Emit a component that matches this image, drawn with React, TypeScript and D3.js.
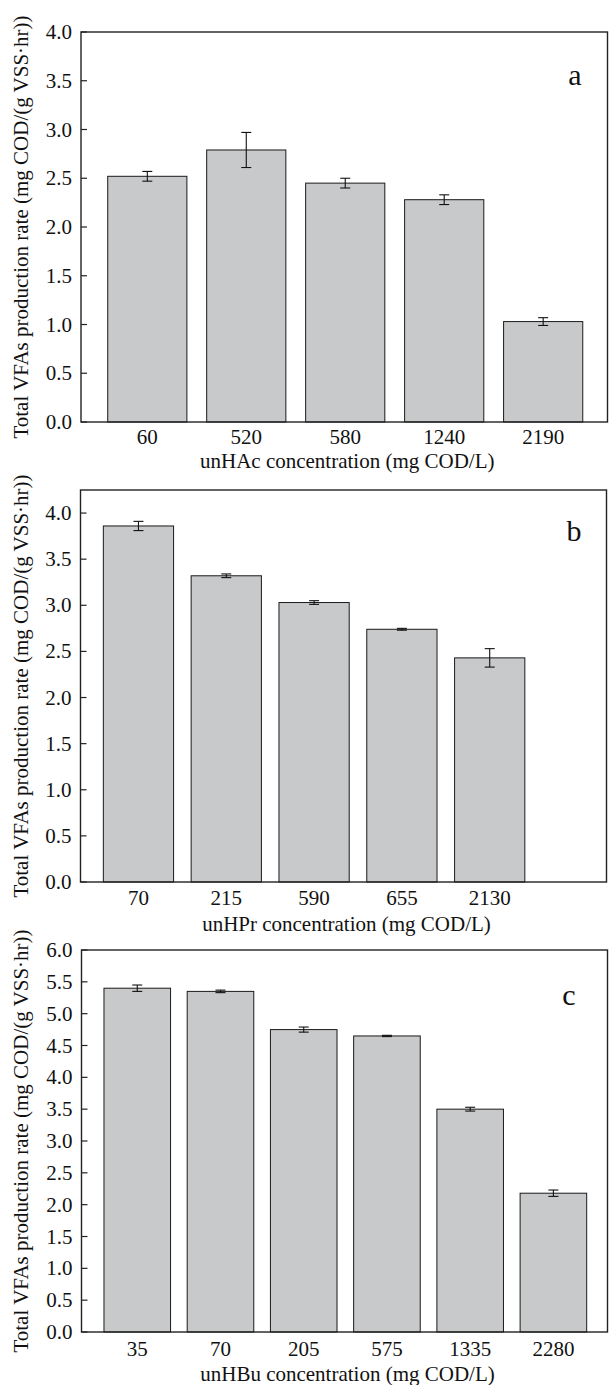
import React from "react";
import * as d3 from "d3";

// ---------- data ----------
const catA = ["60", "520", "580", "1240", "2190"];
const valA = [2.52, 2.79, 2.45, 2.28, 1.03];
const errA = [0.05, 0.18, 0.05, 0.05, 0.04];

const catB = ["70", "215", "590", "655", "2130"];
const valB = [3.86, 3.32, 3.03, 2.74, 2.43];
const errB = [0.05, 0.02, 0.02, 0.01, 0.1];

const catC = ["35", "70", "205", "575", "1335", "2280"];
const valC = [5.4, 5.35, 4.75, 4.65, 3.5, 2.18];
const errC = [0.05, 0.02, 0.04, 0.01, 0.03, 0.05];

const yTicksA = [0, 0.5, 1, 1.5, 2, 2.5, 3, 3.5, 4];
const yTicksB = [0, 0.5, 1, 1.5, 2, 2.5, 3, 3.5, 4];
const yTicksC = [0, 0.5, 1, 1.5, 2, 2.5, 3, 3.5, 4, 4.5, 5, 5.5, 6];

const yTitle = "Total VFAs production rate (mg COD/(g VSS·hr))";
const xTitleA = "unHAc concentration (mg COD/L)";
const xTitleB = "unHPr concentration (mg COD/L)";
const xTitleC = "unHBu concentration (mg COD/L)";

// ---------- layout ----------
const W = 609;
const H = 1385;
const FONT = "'Liberation Serif', 'Times New Roman', serif";

type Panel = {
  cats: string[];
  vals: number[];
  errs: number[];
  ticks: number[];
  xTitle: string;
  letter: string;
  top: number;
  bottom: number;
  left: number;
  right: number;
  yMax: number;
  xDom: [number, number];
  labelDy: number;
  titleDy: number;
  letterX: number;
  letterY: number;
};

const panels: Panel[] = [
  {
    cats: catA, vals: valA, errs: errA, ticks: yTicksA, xTitle: xTitleA, letter: "a",
    top: 32, bottom: 422, left: 81, right: 607.5, yMax: 4, xDom: [0.33, 5.65],
    labelDy: 15, titleDy: 39, letterX: 575, letterY: 85,
  },
  {
    cats: catB, vals: valB, errs: errB, ticks: yTicksB, xTitle: xTitleB, letter: "b",
    top: 490, bottom: 882, left: 80.5, right: 606.5, yMax: 4.25, xDom: [0.34, 6.33],
    labelDy: 16, titleDy: 42, letterX: 574, letterY: 541,
  },
  {
    cats: catC, vals: valC, errs: errC, ticks: yTicksC, xTitle: xTitleC, letter: "c",
    top: 950, bottom: 1332, left: 81.5, right: 607.5, yMax: 6, xDom: [0.33, 6.65],
    labelDy: 17, titleDy: 42, letterX: 569, letterY: 1005,
  },
];

function PanelView({ p }: { p: Panel }) {
  const y = d3.scaleLinear().domain([0, p.yMax]).range([p.bottom, p.top]);
  const x = d3.scaleLinear().domain(p.xDom).range([p.left, p.right]);
  const step = x(2) - x(1);
  const bw = step * 0.8;
  const cap = 5;
  const fmt = d3.format(".1f");
  const cx = (p.left + p.right) / 2;
  return (
    <g>
      {p.vals.map((v, i) => (
        <rect
          key={"b" + i}
          x={x(i + 1) - bw / 2}
          y={y(v)}
          width={bw}
          height={y(0) - y(v)}
          fill="#c8c9cb"
          stroke="#1a1a1a"
          strokeWidth={1}
        />
      ))}
      {p.vals.map((v, i) => {
        const xc = x(i + 1);
        const y1 = y(v + p.errs[i]);
        const y2 = y(v - p.errs[i]);
        return (
          <g key={"e" + i} stroke="#111" strokeWidth={1.1}>
            <line x1={xc} x2={xc} y1={y1} y2={y2} />
            <line x1={xc - cap} x2={xc + cap} y1={y1} y2={y1} />
            <line x1={xc - cap} x2={xc + cap} y1={y2} y2={y2} />
          </g>
        );
      })}
      <rect
        x={p.left}
        y={p.top}
        width={p.right - p.left}
        height={p.bottom - p.top}
        fill="none"
        stroke="#222"
        strokeWidth={1.4}
      />
      {p.ticks.map((t) => (
        <g key={"t" + t}>
          <line x1={p.left} x2={p.left + 6} y1={y(t)} y2={y(t)} stroke="#222" strokeWidth={1.2} />
          <text
            x={p.left - 9}
            y={y(t)}
            textAnchor="end"
            dominantBaseline="central"
            fontSize={21}
            fontFamily={FONT}
            fill="#111"
          >
            {fmt(t)}
          </text>
        </g>
      ))}
      {p.cats.map((c, i) => (
        <text
          key={"c" + i}
          x={x(i + 1)}
          y={p.bottom + p.labelDy}
          textAnchor="middle"
          dominantBaseline="central"
          fontSize={21}
          fontFamily={FONT}
          fill="#111"
        >
          {c}
        </text>
      ))}
      <text
        x={cx + 3}
        y={p.bottom + p.titleDy}
        textAnchor="middle"
        dominantBaseline="central"
        fontSize={21}
        fontFamily={FONT}
        fill="#111"
      >
        {p.xTitle}
      </text>
      <text
        transform={`translate(21, ${(p.top + p.bottom) / 2}) rotate(-90)`}
        textAnchor="middle"
        dominantBaseline="central"
        fontSize={21}
        fontFamily={FONT}
        fill="#111"
      >
        {yTitle}
      </text>
      <text
        x={p.letterX}
        y={p.letterY}
        textAnchor="middle"
        fontSize={30}
        fontFamily={FONT}
        fill="#111"
      >
        {p.letter}
      </text>
    </g>
  );
}

export default function App() {
  return (
    <svg
      width={W}
      height={H}
      viewBox={`0 0 ${W} ${H}`}
      style={{ position: "absolute", left: 0, top: 0, background: "#fff" }}
    >
      <rect x={0} y={0} width={W} height={H} fill="#fff" />
      {panels.map((p, i) => (
        <PanelView key={i} p={p} />
      ))}
    </svg>
  );
}
